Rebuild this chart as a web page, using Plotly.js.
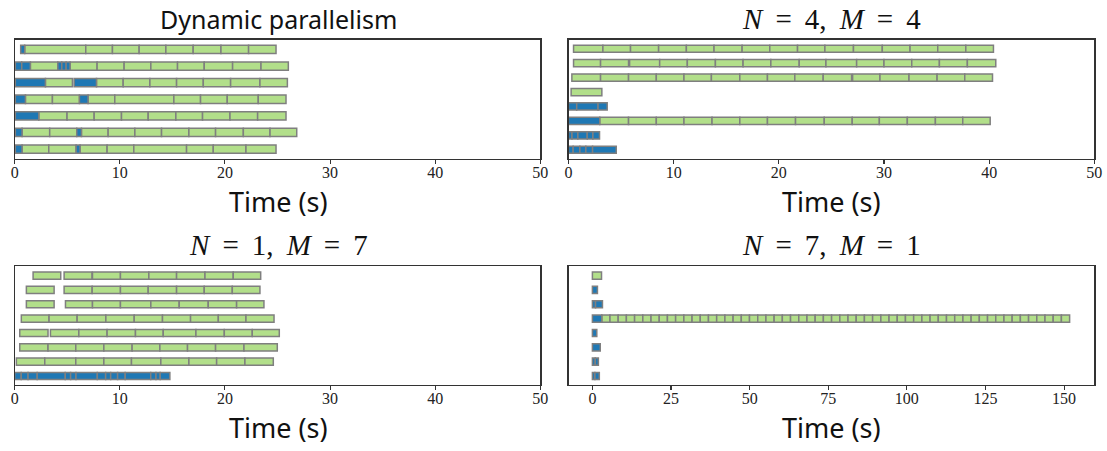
<!DOCTYPE html>
<html><head><meta charset="utf-8">
<script src="https://cdn.plot.ly/plotly-3.0.1.min.js"></script>
<style>html,body{margin:0;padding:0;background:#fff}</style>
</head><body><div id="chart" style="width:1107px;height:451px"></div>
<script>
// ---- data: [row, start (s), end (s), kind]  kind: 'g' = green task, 'b' = blue task
const dynamicParallelism = [
  [0,0.57,0.95,'b'],[0,0.95,6.76,'g'],[0,6.76,9.30,'g'],[0,9.30,11.84,'g'],[0,11.84,14.38,'g'],[0,14.38,16.98,'g'],[0,16.98,19.62,'g'],[0,19.62,22.25,'g'],[0,22.25,24.86,'g'],
  [1,0.06,0.67,'b'],[1,0.67,1.49,'b'],[1,1.49,4.10,'g'],[1,4.10,4.48,'b'],[1,4.48,4.89,'b'],[1,4.89,5.27,'b'],[1,5.27,7.84,'g'],[1,7.84,10.41,'g'],[1,10.41,12.95,'g'],[1,12.95,15.49,'g'],[1,15.49,18.03,'g'],[1,18.03,20.73,'g'],[1,20.73,23.43,'g'],[1,23.43,26.03,'g'],
  [2,0.06,2.92,'b'],[2,2.92,5.49,'g'],[2,5.65,7.78,'b'],[2,7.78,10.32,'g'],[2,10.32,12.86,'g'],[2,12.86,15.40,'g'],[2,15.40,17.94,'g'],[2,17.94,20.54,'g'],[2,20.54,23.33,'g'],[2,23.33,25.94,'g'],
  [3,0.06,1.02,'b'],[3,1.02,3.59,'g'],[3,3.59,6.16,'g'],[3,6.16,6.98,'b'],[3,6.98,9.52,'g'],[3,9.52,15.14,'g'],[3,15.14,17.68,'g'],[3,17.68,20.22,'g'],[3,20.22,23.17,'g'],[3,23.17,25.81,'g'],
  [4,0.06,2.29,'b'],[4,2.29,4.98,'g'],[4,4.98,7.56,'g'],[4,7.56,10.16,'g'],[4,10.16,12.70,'g'],[4,12.70,15.33,'g'],[4,15.33,17.87,'g'],[4,17.87,20.48,'g'],[4,20.48,23.11,'g'],[4,23.11,25.81,'g'],
  [5,0.06,0.70,'b'],[5,0.70,3.33,'g'],[5,3.33,5.90,'g'],[5,5.90,6.35,'b'],[5,6.35,8.89,'g'],[5,8.89,11.43,'g'],[5,11.43,13.97,'g'],[5,13.97,16.57,'g'],[5,16.57,19.11,'g'],[5,19.11,21.75,'g'],[5,21.75,24.29,'g'],[5,24.29,26.83,'g'],
  [6,0.06,0.70,'b'],[6,0.70,3.24,'g'],[6,3.24,5.84,'g'],[6,5.84,6.22,'b'],[6,6.22,8.79,'g'],[6,8.79,11.33,'g'],[6,11.33,16.35,'g'],[6,16.35,18.89,'g'],[6,18.89,22.00,'g'],[6,22.00,24.86,'g']
];
const n4m4 = [
  [0,0.48,3.27,'g'],[0,3.27,5.90,'g'],[0,5.90,8.57,'g'],[0,8.57,11.21,'g'],[0,11.21,13.84,'g'],[0,13.84,16.51,'g'],[0,16.51,19.14,'g'],[0,19.14,21.78,'g'],[0,21.78,24.38,'g'],[0,24.38,27.10,'g'],[0,27.10,29.84,'g'],[0,29.84,32.48,'g'],[0,32.48,35.11,'g'],[0,35.11,37.78,'g'],[0,37.78,40.41,'g'],
  [1,0.48,3.05,'g'],[1,3.05,5.71,'g'],[1,5.81,8.67,'g'],[1,8.67,11.30,'g'],[1,11.30,13.97,'g'],[1,13.97,16.60,'g'],[1,16.60,19.24,'g'],[1,19.24,21.94,'g'],[1,21.94,24.48,'g'],[1,24.48,27.40,'g'],[1,27.40,30.00,'g'],[1,30.00,32.64,'g'],[1,32.64,35.27,'g'],[1,35.27,37.93,'g'],[1,37.93,40.63,'g'],
  [2,0.32,3.05,'g'],[2,3.05,5.71,'g'],[2,5.71,8.35,'g'],[2,8.35,10.98,'g'],[2,10.98,13.59,'g'],[2,13.59,16.29,'g'],[2,16.29,18.92,'g'],[2,18.92,21.52,'g'],[2,21.52,24.22,'g'],[2,24.22,26.92,'g'],[2,27.02,29.62,'g'],[2,29.62,32.38,'g'],[2,32.38,35.05,'g'],[2,35.05,37.68,'g'],[2,37.68,40.32,'g'],
  [3,0.25,3.17,'g'],
  [4,0.00,0.78,'b'],[4,0.78,2.81,'b'],[4,2.81,3.68,'b'],
  [5,0.00,2.97,'b'],[5,2.97,5.71,'g'],[5,5.71,8.35,'g'],[5,8.35,10.98,'g'],[5,10.98,13.65,'g'],[5,13.65,16.29,'g'],[5,16.29,18.92,'g'],[5,18.92,21.59,'g'],[5,21.59,24.32,'g'],[5,24.32,26.98,'g'],[5,26.98,29.56,'g'],[5,29.56,32.22,'g'],[5,32.22,34.89,'g'],[5,34.89,37.49,'g'],[5,37.49,40.10,'g'],
  [6,0.00,0.33,'b'],[6,0.33,0.89,'b'],[6,0.89,1.78,'b'],[6,1.78,2.32,'b'],[6,2.32,2.95,'b'],
  [7,0.00,0.44,'b'],[7,0.44,1.08,'b'],[7,1.08,1.65,'b'],[7,1.65,2.29,'b'],[7,2.29,4.54,'b']
];
const n1m7 = [
  [0,1.75,4.38,'g'],[0,4.70,7.35,'g'],[0,7.40,10.06,'g'],[0,10.06,12.76,'g'],[0,12.76,15.40,'g'],[0,15.40,18.10,'g'],[0,18.10,20.79,'g'],[0,20.79,23.40,'g'],
  [1,1.11,3.75,'g'],[1,4.70,7.37,'g'],[1,7.37,10.06,'g'],[1,10.06,12.70,'g'],[1,12.70,15.40,'g'],[1,15.40,18.03,'g'],[1,18.03,20.70,'g'],[1,20.70,23.33,'g'],
  [2,1.11,3.75,'g'],[2,4.83,7.40,'g'],[2,7.40,10.06,'g'],[2,10.06,12.95,'g'],[2,12.95,15.65,'g'],[2,15.65,18.41,'g'],[2,18.41,21.11,'g'],[2,21.11,23.71,'g'],
  [3,0.63,3.27,'g'],[3,3.27,5.94,'g'],[3,5.94,8.67,'g'],[3,8.67,11.37,'g'],[3,11.37,14.06,'g'],[3,14.06,16.73,'g'],[3,16.73,19.37,'g'],[3,19.37,22.00,'g'],[3,22.00,24.67,'g'],
  [4,0.48,3.17,'g'],[4,3.40,6.10,'g'],[4,6.10,8.79,'g'],[4,8.79,11.49,'g'],[4,11.49,14.13,'g'],[4,14.13,17.24,'g'],[4,17.24,19.94,'g'],[4,19.94,22.60,'g'],[4,22.60,25.17,'g'],
  [5,0.48,3.17,'g'],[5,3.17,5.81,'g'],[5,5.81,8.48,'g'],[5,8.48,11.17,'g'],[5,11.17,13.81,'g'],[5,13.81,16.44,'g'],[5,16.44,19.11,'g'],[5,19.11,21.81,'g'],[5,21.81,24.98,'g'],
  [6,0.16,2.86,'g'],[6,2.86,5.81,'g'],[6,5.81,8.48,'g'],[6,8.48,11.11,'g'],[6,11.11,13.90,'g'],[6,13.90,16.57,'g'],[6,16.57,19.21,'g'],[6,19.21,21.90,'g'],[6,21.90,24.60,'g'],
  [7,0.00,0.62,'b'],[7,0.62,1.27,'b'],[7,1.27,2.14,'b'],[7,2.14,4.81,'b'],[7,4.81,5.32,'b'],[7,5.32,5.83,'b'],[7,5.83,7.86,'b'],[7,7.86,8.65,'b'],[7,8.65,9.13,'b'],[7,9.13,9.79,'b'],[7,9.79,10.51,'b'],[7,10.51,12.94,'b'],[7,12.94,13.44,'b'],[7,13.44,13.84,'b'],[7,13.84,14.76,'b']
];
const n7m1 = [
  [0,0.00,2.90,'g'],
  [1,0.00,1.60,'b'],
  [2,0.00,1.00,'b'],[2,1.00,3.20,'b'],
  [3,0.00,2.98,'b'],
  [4,0.00,1.40,'b'],
  [5,0.00,2.50,'b'],
  [6,0.00,0.90,'b'],[6,0.90,1.90,'b'],
  [7,0.00,0.80,'b'],[7,0.80,2.20,'b']
];
// row 3 of N=7,M=1: consecutive green tasks after the first blue one (durations, s)
const n7m1LongRowStart = 2.98;
const n7m1LongRowDurations = [
  2.61,2.61,2.61,2.61,2.61,2.61,2.61,2.61,2.61,2.61,
  2.61,2.61,2.61,2.61,2.61,2.61,2.61,2.61,2.61,2.61,
  2.61,2.61,2.61,2.61,2.61,2.61,2.61,2.61,2.61,2.61,
  2.61,2.61,2.61,2.61,2.61,2.61,2.61,2.61,2.61,2.61,
  2.61,2.61,2.61,2.61,2.61,2.61,2.61,2.61,2.61,2.61,
  2.61,2.61,2.61,2.61,2.61,2.61,2.61
];
const SP = '&nbsp;&#8201;';
const panelTitles = ['Dynamic parallelism',
  '<i>N</i>'+SP+'='+SP+'4,'+SP+'<i>M</i>'+SP+'='+SP+'4',
  '<i>N</i>'+SP+'='+SP+'1,'+SP+'<i>M</i>'+SP+'='+SP+'7',
  '<i>N</i>'+SP+'='+SP+'7,'+SP+'<i>M</i>'+SP+'='+SP+'1'];
const xTicksSmall = [0,10,20,30,40,50];
const xTicksLarge = [0,25,50,75,100,125,150];
const xAxisLabel = 'Time (s)';

// build long row segments
let t = n7m1LongRowStart;
n7m1LongRowDurations.forEach(d => { n7m1.push([3, t, t + d, 'g']); t += d; });

const COLORS = {g:'#b2df8a', b:'#1f78b4'};
const EDGE = '#7f7f7f';
const traces = [];
function addPanel(segs, xa, ya) {
  ['g','b'].forEach(k => {
    const s = segs.filter(r => r[3] === k);
    if (!s.length) return;
    traces.push({
      type:'bar', orientation:'h', xaxis:xa, yaxis:ya,
      y: s.map(r => r[0]), base: s.map(r => r[1]), x: s.map(r => r[2]-r[1]),
      width: 0.5, showlegend:false, hoverinfo:'skip',
      marker:{color:COLORS[k], line:{color:EDGE, width:1.5}}
    });
  });
}
addPanel(dynamicParallelism,'x','y');
addPanel(n4m4,'x2','y2');
addPanel(n1m7,'x3','y3');
addPanel(n7m1,'x4','y4');

const W = 1107, H = 451;
const px = v => v / W, py = v => 1 - v / H;
const sansFont = '"Noto Sans", "DejaVu Sans", sans-serif';
const serifFont = '"Liberation Serif", "DejaVu Serif", serif';
function xax(dom, anchor, range, ticks) {
  return {domain:dom, anchor:anchor, range:range, tickvals:ticks, ticktext:ticks.map(String),
    showgrid:false, zeroline:false, showline:true, mirror:true, linecolor:'#333', linewidth:1.2,
    ticks:'outside', ticklen:4, tickwidth:1.1, tickcolor:'#333', ticklabelstandoff:-5,
    tickfont:{family:serifFont, size:16, color:'#222'}};
}
function yax(dom, anchor, range) {
  return {domain:dom, anchor:anchor, range:range, showgrid:false, zeroline:false, showline:true, mirror:true,
    linecolor:'#333', linewidth:1.2, showticklabels:false, ticks:''};
}
const leftDom = [px(14.7), px(540.3)], rightDom = [px(568.5), px(1094.3)];
const topDom = [py(159), py(39.5)], botDom = [py(385), py(266.3)];
const titleFont = {family:serifFont, size:29, color:'#111'};
const labelFont = {family:sansFont, size:27, color:'#111'};
const layout = {
  width:W, height:H, margin:{l:0,r:0,t:0,b:0}, paper_bgcolor:'#fff', plot_bgcolor:'#fff',
  barmode:'overlay', bargap:0,
  xaxis: xax(leftDom,'y',[0,50],xTicksSmall),
  xaxis2: xax(rightDom,'y2',[0,50],xTicksSmall),
  xaxis3: xax(leftDom,'y3',[0,50],xTicksSmall),
  xaxis4: xax(rightDom,'y4',[-7.6,159.6],xTicksLarge),
  yaxis: yax(topDom,'x',[6.6,-0.6]),
  yaxis2: yax(topDom,'x2',[7.64,-0.64]),
  yaxis3: yax(botDom,'x3',[7.63,-0.65]),
  yaxis4: yax(botDom,'x4',[7.63,-0.65]),
  annotations: [
    {text:panelTitles[0], x:px(278), y:py(19), font:{family:sansFont, size:25, color:'#111'}},
    {text:panelTitles[1], x:px(831), y:py(19), font:titleFont},
    {text:panelTitles[2], x:px(278), y:py(245), font:titleFont},
    {text:panelTitles[3], x:px(831), y:py(245), font:titleFont},
    {text:xAxisLabel, x:px(278), y:py(201), font:labelFont},
    {text:xAxisLabel, x:px(831), y:py(201), font:labelFont},
    {text:xAxisLabel, x:px(278), y:py(427), font:labelFont},
    {text:xAxisLabel, x:px(831), y:py(427), font:labelFont}
  ].map(a => Object.assign({xref:'paper', yref:'paper', xanchor:'center', yanchor:'middle', showarrow:false, borderpad:0}, a))
};
Plotly.newPlot('chart', traces, layout, {staticPlot:true, displayModeBar:false});
</script></body></html>
